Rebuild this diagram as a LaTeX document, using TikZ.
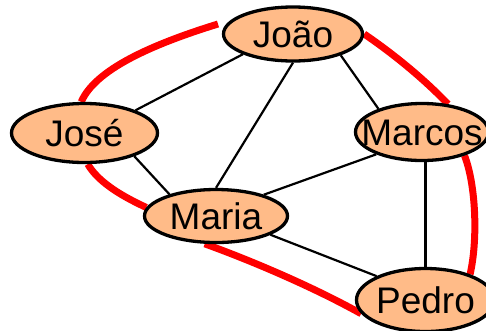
\documentclass[tikz,border=0pt]{standalone}
\usepackage{fontspec}
\setmainfont{Liberation Sans}
\usetikzlibrary{shapes.geometric,backgrounds}
\definecolor{pessoa}{RGB}{255,187,136}

\begin{document}
\begin{tikzpicture}[x=1pt,y=-1pt,
  person/.style={ellipse,draw=black,line width=3.3pt,fill=pessoa,
    inner xsep=-25pt,inner ysep=-10pt,text height=26.5pt,text depth=0pt,
    font=\fontsize{37}{40}\selectfont},
  edge/.style={line width=2.2pt},
  tour/.style={red,line width=7pt}]
  \useasboundingbox (0,0) rectangle (486,330);

  \node[person,minimum width=139pt,minimum height=54pt] (joao) at (293,34) {João};
  \node[person,minimum width=146pt,minimum height=59pt] (jose) at (84.5,133) {José};
  \node[person,minimum width=133pt,minimum height=57pt] (marcos) at (422,132) {Marcos};
  \node[person,minimum width=143pt,minimum height=53pt] (maria) at (216,216) {Maria};
  \node[person,minimum width=138pt,minimum height=63pt] (pedro) at (425.5,300) {Pedro};

  \begin{scope}[on background layer]
  \draw[edge] (joao.202) -- (jose.24);
  \draw[edge] (joao.270) -- (maria.90);
  \draw[edge] (joao.336) -- (marcos.152);
  \draw[edge] (jose.335) -- (maria.155);
  \draw[edge] (maria.24) -- (marcos.206);
  \draw[edge] (maria.341) -- (pedro.154);
  \draw[edge] (pedro.north |- marcos.south) -- (pedro.north);

  % ciclo
  \coordinate (ini) at (218,24);
  \draw[tour] (ini) .. controls (150,45) and (95,70) .. (jose.96);
  \draw[tour] (jose.276) .. controls (97,180) and (117,194) .. (maria.173);
  \draw[tour] (maria.248) .. controls (255,262) and (315,288) .. (pedro.192);
  \draw[tour] (pedro.30) .. controls (478,240) and (476,185) .. (marcos.331);
  \draw[tour] (marcos.47) .. controls (425,80) and (395,55) .. (joao.east);
  \end{scope}
\end{tikzpicture}
\end{document}
